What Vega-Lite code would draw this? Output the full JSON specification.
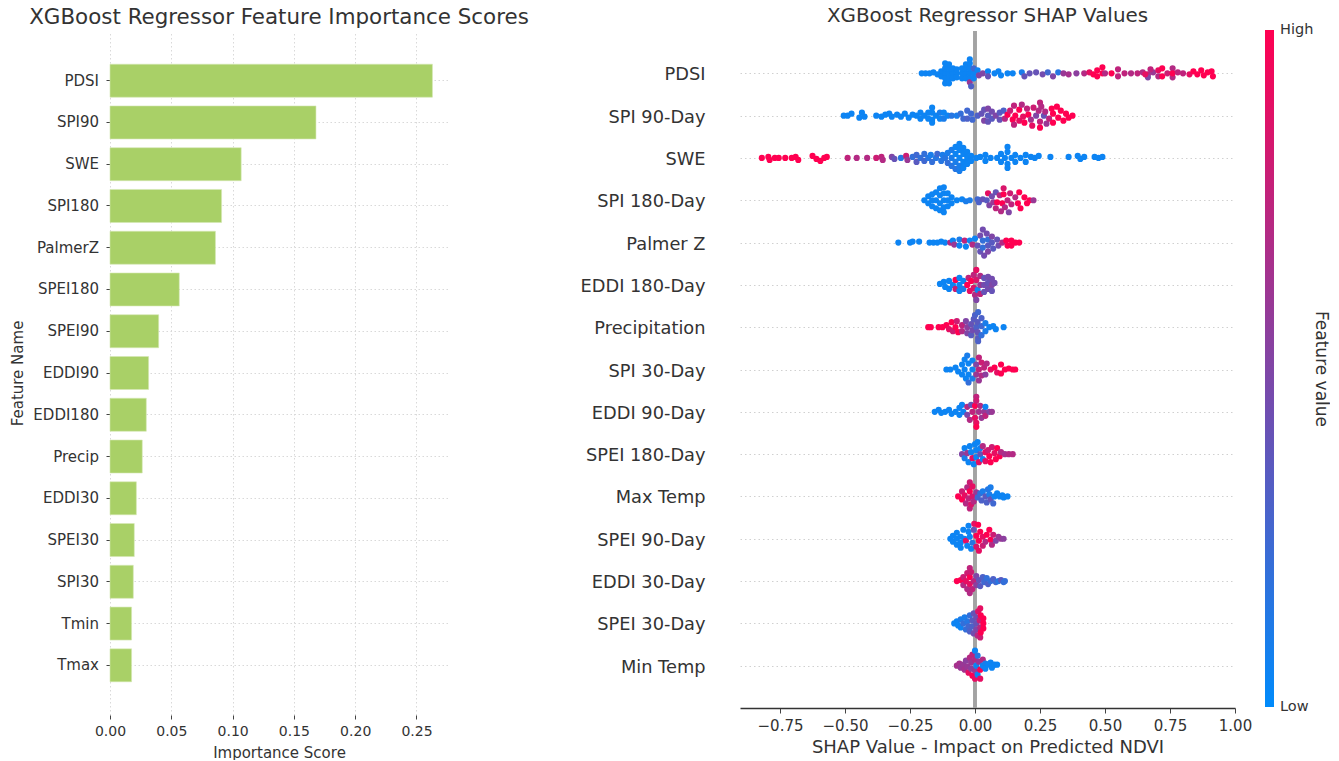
{"$schema":"https://vega.github.io/schema/vega-lite/v6.json","padding":{"left":10,"top":6,"right":0,"bottom":0},"background":"white","spacing":51,"config":{"view":{"stroke":null},"font":"DejaVu Sans","title":{"font":"DejaVu Sans","fontWeight":"normal","color":"#333333"},"axis":{"labelFont":"DejaVu Sans","titleFont":"DejaVu Sans","titleFontWeight":"normal","labelColor":"#333333","titleColor":"#333333","tickColor":"#444444"},"legend":{"labelFont":"DejaVu Sans","titleFont":"DejaVu Sans"}},"hconcat":[{"width":338,"height":684,"title":{"text":"XGBoost Regressor Feature Importance Scores","fontSize":21.4,"offset":2.5},"data":{"values":[{"n":"PDSI","i":0.263},{"n":"SPI90","i":0.168},{"n":"SWE","i":0.107},{"n":"SPI180","i":0.091},{"n":"PalmerZ","i":0.086},{"n":"SPEI180","i":0.0565},{"n":"SPEI90","i":0.0397},{"n":"EDDI90","i":0.0315},{"n":"EDDI180","i":0.0296},{"n":"Precip","i":0.0263},{"n":"EDDI30","i":0.0215},{"n":"SPEI30","i":0.0198},{"n":"SPI30","i":0.019},{"n":"Tmin","i":0.0176},{"n":"Tmax","i":0.0176}]},"mark":{"type":"bar","color":"#a9d067","stroke":"#d5e8b3","strokeWidth":0.6,"height":33},"encoding":{"x":{"field":"i","type":"quantitative","title":"Importance Score","scale":{"domain":[0,0.2757],"nice":false},"axis":{"values":[0,0.05,0.1,0.15,0.2,0.25],"format":".2f","labelFlush":false,"domain":false,"grid":true,"gridDash":[1.5,2.5],"gridColor":"#d9d9d9","labelFontSize":14,"titleFontSize":15,"tickSize":4,"titlePadding":7,"labelPadding":5}},"y":{"field":"n","type":"nominal","sort":null,"title":"Feature Name","scale":{"paddingInner":0.21,"paddingOuter":0.795},"axis":{"domain":false,"grid":true,"gridDash":[1.5,2.5],"gridColor":"#d9d9d9","labelFontSize":15,"titleFontSize":15,"tickSize":4,"labelPadding":7.5,"titlePadding":7.5}}}},{"width":495,"height":677,"title":{"text":"XGBoost Regressor SHAP Values","fontSize":19.9,"offset":3.5},"data":{"values":[
{"f":"PDSI","s":-0.205,"o":0,"v":0.05},{"f":"PDSI","s":-0.19,"o":0,"v":0.05},{"f":"PDSI","s":-0.175,"o":0,"v":0.05},{"f":"PDSI","s":-0.16,"o":-1,"v":0.05},{"f":"PDSI","s":-0.145,"o":1,"v":0.05},{"f":"PDSI","s":-0.13,"o":-2,"v":0.05},{"f":"PDSI","s":-0.13,"o":3,"v":0.05},{"f":"PDSI","s":-0.115,"o":0,"v":0.05},{"f":"PDSI","s":-0.115,"o":-5,"v":0.05},{"f":"PDSI","s":-0.115,"o":5,"v":0.05},{"f":"PDSI","s":-0.115,"o":-10,"v":0.05},{"f":"PDSI","s":-0.115,"o":10,"v":0.05},{"f":"PDSI","s":-0.1,"o":0,"v":0.05},{"f":"PDSI","s":-0.1,"o":-5,"v":0.05},{"f":"PDSI","s":-0.1,"o":5,"v":0.05},{"f":"PDSI","s":-0.1,"o":-9,"v":0.05},{"f":"PDSI","s":-0.1,"o":10,"v":0.05},{"f":"PDSI","s":-0.085,"o":0,"v":0.05},{"f":"PDSI","s":-0.085,"o":-5,"v":0.05},{"f":"PDSI","s":-0.085,"o":5,"v":0.05},{"f":"PDSI","s":-0.07,"o":0,"v":0.05},{"f":"PDSI","s":-0.07,"o":-4,"v":0.05},{"f":"PDSI","s":-0.07,"o":4,"v":0.05},{"f":"PDSI","s":-0.05,"o":0,"v":0.05},{"f":"PDSI","s":-0.05,"o":-5,"v":0.05},{"f":"PDSI","s":-0.05,"o":5,"v":0.05},{"f":"PDSI","s":-0.035,"o":0,"v":0.05},{"f":"PDSI","s":-0.035,"o":-5,"v":0.05},{"f":"PDSI","s":-0.035,"o":5,"v":0.05},{"f":"PDSI","s":-0.035,"o":-9,"v":0.05},{"f":"PDSI","s":-0.02,"o":0,"v":0.05},{"f":"PDSI","s":-0.02,"o":-5,"v":0.05},{"f":"PDSI","s":-0.02,"o":5,"v":0.05},{"f":"PDSI","s":-0.02,"o":-10,"v":0.05},{"f":"PDSI","s":-0.02,"o":-14,"v":0.05},{"f":"PDSI","s":-0.02,"o":9,"v":0.6},{"f":"PDSI","s":-0.015,"o":13,"v":0.3},{"f":"PDSI","s":-0.005,"o":0,"v":0.05},{"f":"PDSI","s":-0.005,"o":-5,"v":0.25},{"f":"PDSI","s":-0.005,"o":5,"v":0.05},{"f":"PDSI","s":0.01,"o":-3,"v":0.05},{"f":"PDSI","s":0.015,"o":2,"v":0.5},{"f":"PDSI","s":0.03,"o":0,"v":0.5},{"f":"PDSI","s":0.05,"o":-2,"v":0.05},{"f":"PDSI","s":0.05,"o":3,"v":0.4},{"f":"PDSI","s":0.075,"o":0,"v":0.05},{"f":"PDSI","s":0.09,"o":-2,"v":0.05},{"f":"PDSI","s":0.1,"o":2,"v":0.05},{"f":"PDSI","s":0.125,"o":0,"v":0.05},{"f":"PDSI","s":0.145,"o":0,"v":0.05},{"f":"PDSI","s":0.18,"o":-1,"v":0.1},{"f":"PDSI","s":0.19,"o":3,"v":0.4},{"f":"PDSI","s":0.21,"o":0,"v":0.4},{"f":"PDSI","s":0.235,"o":-1,"v":0.4},{"f":"PDSI","s":0.26,"o":1,"v":0.45},{"f":"PDSI","s":0.28,"o":-1,"v":0.25},{"f":"PDSI","s":0.3,"o":3,"v":0.5},{"f":"PDSI","s":0.32,"o":-1,"v":0.15},{"f":"PDSI","s":0.34,"o":0,"v":0.6},{"f":"PDSI","s":0.36,"o":1,"v":0.65},{"f":"PDSI","s":0.39,"o":0,"v":0.55},{"f":"PDSI","s":0.42,"o":0,"v":0.7},{"f":"PDSI","s":0.44,"o":-1,"v":0.9},{"f":"PDSI","s":0.455,"o":1,"v":1},{"f":"PDSI","s":0.47,"o":-3,"v":1},{"f":"PDSI","s":0.47,"o":3,"v":1},{"f":"PDSI","s":0.49,"o":0,"v":1},{"f":"PDSI","s":0.49,"o":-6,"v":1},{"f":"PDSI","s":0.5,"o":0,"v":0.7},{"f":"PDSI","s":0.525,"o":0,"v":1},{"f":"PDSI","s":0.55,"o":-4,"v":0.75},{"f":"PDSI","s":0.55,"o":3,"v":0.75},{"f":"PDSI","s":0.575,"o":0,"v":0.75},{"f":"PDSI","s":0.6,"o":0,"v":0.7},{"f":"PDSI","s":0.625,"o":0,"v":0.75},{"f":"PDSI","s":0.645,"o":-1,"v":0.7},{"f":"PDSI","s":0.665,"o":1,"v":0.7},{"f":"PDSI","s":0.685,"o":-1,"v":0.6},{"f":"PDSI","s":0.705,"o":-3,"v":0.9},{"f":"PDSI","s":0.705,"o":3,"v":0.7},{"f":"PDSI","s":0.665,"o":4,"v":0.5},{"f":"PDSI","s":0.675,"o":-4,"v":0.75},{"f":"PDSI","s":0.655,"o":1,"v":0.9},{"f":"PDSI","s":0.72,"o":-5,"v":1},{"f":"PDSI","s":0.72,"o":3,"v":1},{"f":"PDSI","s":0.74,"o":0,"v":0.8},{"f":"PDSI","s":0.76,"o":-5,"v":0.7},{"f":"PDSI","s":0.76,"o":4,"v":0.7},{"f":"PDSI","s":0.76,"o":0,"v":1},{"f":"PDSI","s":0.78,"o":-1,"v":0.75},{"f":"PDSI","s":0.8,"o":0,"v":0.75},{"f":"PDSI","s":0.825,"o":1,"v":0.9},{"f":"PDSI","s":0.84,"o":-2,"v":1},{"f":"PDSI","s":0.855,"o":1,"v":1},{"f":"PDSI","s":0.87,"o":-3,"v":1},{"f":"PDSI","s":0.88,"o":2,"v":1},{"f":"PDSI","s":0.895,"o":-1,"v":1},{"f":"PDSI","s":0.91,"o":-2,"v":1},{"f":"PDSI","s":0.915,"o":3,"v":1},
{"f":"SPI 90-Day","s":-0.505,"o":0,"v":0.05},{"f":"SPI 90-Day","s":-0.49,"o":0,"v":0.05},{"f":"SPI 90-Day","s":-0.475,"o":-2,"v":0.05},{"f":"SPI 90-Day","s":-0.445,"o":2,"v":0.05},{"f":"SPI 90-Day","s":-0.435,"o":-3,"v":0.05},{"f":"SPI 90-Day","s":-0.425,"o":1,"v":0.05},{"f":"SPI 90-Day","s":-0.38,"o":0,"v":0.05},{"f":"SPI 90-Day","s":-0.36,"o":1,"v":0.05},{"f":"SPI 90-Day","s":-0.345,"o":-1,"v":0.05},{"f":"SPI 90-Day","s":-0.33,"o":-2,"v":0.05},{"f":"SPI 90-Day","s":-0.32,"o":1,"v":0.05},{"f":"SPI 90-Day","s":-0.3,"o":-1,"v":0.05},{"f":"SPI 90-Day","s":-0.285,"o":1,"v":0.05},{"f":"SPI 90-Day","s":-0.27,"o":-2,"v":0.05},{"f":"SPI 90-Day","s":-0.255,"o":2,"v":0.05},{"f":"SPI 90-Day","s":-0.24,"o":-1,"v":0.05},{"f":"SPI 90-Day","s":-0.225,"o":0,"v":0.05},{"f":"SPI 90-Day","s":-0.21,"o":-3,"v":0.05},{"f":"SPI 90-Day","s":-0.21,"o":3,"v":0.05},{"f":"SPI 90-Day","s":-0.195,"o":0,"v":0.05},{"f":"SPI 90-Day","s":-0.18,"o":-3,"v":0.05},{"f":"SPI 90-Day","s":-0.18,"o":3,"v":0.05},{"f":"SPI 90-Day","s":-0.165,"o":-3,"v":0.05},{"f":"SPI 90-Day","s":-0.165,"o":4,"v":0.05},{"f":"SPI 90-Day","s":-0.165,"o":-8,"v":0.05},{"f":"SPI 90-Day","s":-0.165,"o":7,"v":0.05},{"f":"SPI 90-Day","s":-0.15,"o":0,"v":0.05},{"f":"SPI 90-Day","s":-0.135,"o":-3,"v":0.1},{"f":"SPI 90-Day","s":-0.135,"o":3,"v":0.05},{"f":"SPI 90-Day","s":-0.12,"o":-3,"v":0.05},{"f":"SPI 90-Day","s":-0.12,"o":3,"v":0.1},{"f":"SPI 90-Day","s":-0.105,"o":0,"v":0.05},{"f":"SPI 90-Day","s":-0.09,"o":0,"v":0.15},{"f":"SPI 90-Day","s":-0.07,"o":0,"v":0.1},{"f":"SPI 90-Day","s":-0.055,"o":-2,"v":0.2},{"f":"SPI 90-Day","s":-0.045,"o":3,"v":0.25},{"f":"SPI 90-Day","s":-0.03,"o":-5,"v":0.25},{"f":"SPI 90-Day","s":-0.03,"o":3,"v":0.3},{"f":"SPI 90-Day","s":-0.015,"o":-2,"v":0.25},{"f":"SPI 90-Day","s":-0.01,"o":4,"v":0.25},{"f":"SPI 90-Day","s":0.01,"o":0,"v":0.3},{"f":"SPI 90-Day","s":0.025,"o":-2,"v":0.4},{"f":"SPI 90-Day","s":0.035,"o":-6,"v":0.4},{"f":"SPI 90-Day","s":0.035,"o":5,"v":0.5},{"f":"SPI 90-Day","s":0.05,"o":0,"v":0.35},{"f":"SPI 90-Day","s":0.05,"o":-7,"v":0.5},{"f":"SPI 90-Day","s":0.05,"o":6,"v":0.4},{"f":"SPI 90-Day","s":0.065,"o":-4,"v":0.45},{"f":"SPI 90-Day","s":0.065,"o":3,"v":0.35},{"f":"SPI 90-Day","s":0.08,"o":0,"v":0.5},{"f":"SPI 90-Day","s":0.095,"o":-3,"v":0.35},{"f":"SPI 90-Day","s":0.095,"o":4,"v":0.4},{"f":"SPI 90-Day","s":0.11,"o":-5,"v":0.3},{"f":"SPI 90-Day","s":0.115,"o":3,"v":0.7},{"f":"SPI 90-Day","s":0.125,"o":-1,"v":1},{"f":"SPI 90-Day","s":0.135,"o":-5,"v":0.8},{"f":"SPI 90-Day","s":0.145,"o":4,"v":1},{"f":"SPI 90-Day","s":0.15,"o":-10,"v":0.75},{"f":"SPI 90-Day","s":0.15,"o":9,"v":0.75},{"f":"SPI 90-Day","s":0.155,"o":0,"v":1},{"f":"SPI 90-Day","s":0.17,"o":-6,"v":1},{"f":"SPI 90-Day","s":0.17,"o":5,"v":0.9},{"f":"SPI 90-Day","s":0.18,"o":-11,"v":0.7},{"f":"SPI 90-Day","s":0.185,"o":1,"v":0.9},{"f":"SPI 90-Day","s":0.19,"o":7,"v":1},{"f":"SPI 90-Day","s":0.2,"o":-7,"v":0.75},{"f":"SPI 90-Day","s":0.205,"o":-1,"v":1},{"f":"SPI 90-Day","s":0.215,"o":4,"v":0.65},{"f":"SPI 90-Day","s":0.22,"o":10,"v":0.9},{"f":"SPI 90-Day","s":0.225,"o":-8,"v":0.8},{"f":"SPI 90-Day","s":0.235,"o":0,"v":0.5},{"f":"SPI 90-Day","s":0.245,"o":-5,"v":0.7},{"f":"SPI 90-Day","s":0.25,"o":-13,"v":0.75},{"f":"SPI 90-Day","s":0.25,"o":6,"v":0.75},{"f":"SPI 90-Day","s":0.25,"o":12,"v":1},{"f":"SPI 90-Day","s":0.255,"o":-9,"v":0.7},{"f":"SPI 90-Day","s":0.265,"o":0,"v":0.4},{"f":"SPI 90-Day","s":0.27,"o":-4,"v":0.7},{"f":"SPI 90-Day","s":0.275,"o":8,"v":0.6},{"f":"SPI 90-Day","s":0.285,"o":3,"v":0.75},{"f":"SPI 90-Day","s":0.295,"o":-7,"v":1},{"f":"SPI 90-Day","s":0.3,"o":-2,"v":1},{"f":"SPI 90-Day","s":0.3,"o":7,"v":1},{"f":"SPI 90-Day","s":0.315,"o":-9,"v":1},{"f":"SPI 90-Day","s":0.32,"o":2,"v":1},{"f":"SPI 90-Day","s":0.33,"o":-5,"v":1},{"f":"SPI 90-Day","s":0.34,"o":5,"v":1},{"f":"SPI 90-Day","s":0.35,"o":-2,"v":1},{"f":"SPI 90-Day","s":0.36,"o":2,"v":1},{"f":"SPI 90-Day","s":0.375,"o":0,"v":1},
{"f":"SWE","s":-0.82,"o":0,"v":1},{"f":"SWE","s":-0.795,"o":-1,"v":1},{"f":"SWE","s":-0.79,"o":2,"v":1},{"f":"SWE","s":-0.77,"o":0,"v":1},{"f":"SWE","s":-0.755,"o":0,"v":1},{"f":"SWE","s":-0.73,"o":0,"v":1},{"f":"SWE","s":-0.705,"o":0,"v":1},{"f":"SWE","s":-0.69,"o":-1,"v":1},{"f":"SWE","s":-0.68,"o":2,"v":1},{"f":"SWE","s":-0.625,"o":-2,"v":1},{"f":"SWE","s":-0.61,"o":1,"v":1},{"f":"SWE","s":-0.595,"o":3,"v":1},{"f":"SWE","s":-0.58,"o":0,"v":1},{"f":"SWE","s":-0.57,"o":-1,"v":1},{"f":"SWE","s":-0.49,"o":0,"v":0.75},{"f":"SWE","s":-0.455,"o":0,"v":0.7},{"f":"SWE","s":-0.415,"o":0,"v":0.7},{"f":"SWE","s":-0.38,"o":0,"v":0.8},{"f":"SWE","s":-0.36,"o":-1,"v":0.75},{"f":"SWE","s":-0.355,"o":2,"v":0.7},{"f":"SWE","s":-0.32,"o":-1,"v":0.5},{"f":"SWE","s":-0.31,"o":1,"v":0.4},{"f":"SWE","s":-0.285,"o":0,"v":0.15},{"f":"SWE","s":-0.265,"o":-2,"v":0.8},{"f":"SWE","s":-0.26,"o":2,"v":0.6},{"f":"SWE","s":-0.24,"o":-1,"v":0.2},{"f":"SWE","s":-0.225,"o":-3,"v":0.25},{"f":"SWE","s":-0.225,"o":4,"v":0.35},{"f":"SWE","s":-0.21,"o":0,"v":0.2},{"f":"SWE","s":-0.195,"o":-4,"v":0.2},{"f":"SWE","s":-0.195,"o":3,"v":0.25},{"f":"SWE","s":-0.18,"o":0,"v":0.15},{"f":"SWE","s":-0.17,"o":-3,"v":0.1},{"f":"SWE","s":-0.165,"o":4,"v":0.2},{"f":"SWE","s":-0.15,"o":0,"v":0.15},{"f":"SWE","s":-0.145,"o":-4,"v":0.25},{"f":"SWE","s":-0.13,"o":3,"v":0.15},{"f":"SWE","s":-0.125,"o":-3,"v":0.1},{"f":"SWE","s":-0.115,"o":0,"v":0.15},{"f":"SWE","s":-0.105,"o":-5,"v":0.1},{"f":"SWE","s":-0.105,"o":5,"v":0.2},{"f":"SWE","s":-0.09,"o":0,"v":0.1},{"f":"SWE","s":-0.09,"o":-8,"v":0.1},{"f":"SWE","s":-0.09,"o":8,"v":0.15},{"f":"SWE","s":-0.075,"o":-4,"v":0.05},{"f":"SWE","s":-0.075,"o":4,"v":0.1},{"f":"SWE","s":-0.075,"o":-11,"v":0.05},{"f":"SWE","s":-0.075,"o":11,"v":0.15},{"f":"SWE","s":-0.06,"o":0,"v":0.05},{"f":"SWE","s":-0.06,"o":-8,"v":0.05},{"f":"SWE","s":-0.06,"o":8,"v":0.1},{"f":"SWE","s":-0.06,"o":-14,"v":0.05},{"f":"SWE","s":-0.06,"o":13,"v":0.1},{"f":"SWE","s":-0.045,"o":-4,"v":0.05},{"f":"SWE","s":-0.045,"o":4,"v":0.05},{"f":"SWE","s":-0.045,"o":-10,"v":0.05},{"f":"SWE","s":-0.045,"o":10,"v":0.05},{"f":"SWE","s":-0.03,"o":0,"v":0.05},{"f":"SWE","s":-0.03,"o":-6,"v":0.05},{"f":"SWE","s":-0.03,"o":6,"v":0.05},{"f":"SWE","s":-0.015,"o":-2,"v":0.05},{"f":"SWE","s":-0.015,"o":3,"v":0.05},{"f":"SWE","s":0.005,"o":0,"v":0.05},{"f":"SWE","s":0.02,"o":-1,"v":0.05},{"f":"SWE","s":0.04,"o":-3,"v":0.05},{"f":"SWE","s":0.04,"o":3,"v":0.05},{"f":"SWE","s":0.06,"o":0,"v":0.05},{"f":"SWE","s":0.085,"o":0,"v":0.05},{"f":"SWE","s":0.1,"o":-4,"v":0.05},{"f":"SWE","s":0.1,"o":4,"v":0.05},{"f":"SWE","s":0.115,"o":0,"v":0.05},{"f":"SWE","s":0.125,"o":-6,"v":0.05},{"f":"SWE","s":0.125,"o":6,"v":0.05},{"f":"SWE","s":0.125,"o":-11,"v":0.05},{"f":"SWE","s":0.125,"o":10,"v":0.05},{"f":"SWE","s":0.14,"o":0,"v":0.05},{"f":"SWE","s":0.155,"o":-3,"v":0.05},{"f":"SWE","s":0.155,"o":4,"v":0.05},{"f":"SWE","s":0.175,"o":0,"v":0.05},{"f":"SWE","s":0.195,"o":-3,"v":0.05},{"f":"SWE","s":0.195,"o":4,"v":0.05},{"f":"SWE","s":0.215,"o":-1,"v":0.05},{"f":"SWE","s":0.23,"o":0,"v":0.05},{"f":"SWE","s":0.245,"o":-2,"v":0.05},{"f":"SWE","s":0.29,"o":-1,"v":0.05},{"f":"SWE","s":0.36,"o":-1,"v":0.05},{"f":"SWE","s":0.395,"o":-2,"v":0.05},{"f":"SWE","s":0.405,"o":1,"v":0.05},{"f":"SWE","s":0.42,"o":-1,"v":0.05},{"f":"SWE","s":0.46,"o":-1,"v":0.05},{"f":"SWE","s":0.475,"o":0,"v":0.05},{"f":"SWE","s":0.49,"o":-1,"v":0.05},
{"f":"SPI 180-Day","s":-0.195,"o":0,"v":0.05},{"f":"SPI 180-Day","s":-0.18,"o":-4,"v":0.05},{"f":"SPI 180-Day","s":-0.18,"o":3,"v":0.05},{"f":"SPI 180-Day","s":-0.165,"o":-6,"v":0.05},{"f":"SPI 180-Day","s":-0.165,"o":0,"v":0.05},{"f":"SPI 180-Day","s":-0.165,"o":6,"v":0.05},{"f":"SPI 180-Day","s":-0.15,"o":-8,"v":0.05},{"f":"SPI 180-Day","s":-0.15,"o":0,"v":0.05},{"f":"SPI 180-Day","s":-0.15,"o":8,"v":0.05},{"f":"SPI 180-Day","s":-0.135,"o":-12,"v":0.05},{"f":"SPI 180-Day","s":-0.135,"o":-5,"v":0.05},{"f":"SPI 180-Day","s":-0.135,"o":3,"v":0.05},{"f":"SPI 180-Day","s":-0.135,"o":10,"v":0.05},{"f":"SPI 180-Day","s":-0.12,"o":-13,"v":0.05},{"f":"SPI 180-Day","s":-0.12,"o":-7,"v":0.05},{"f":"SPI 180-Day","s":-0.12,"o":0,"v":0.05},{"f":"SPI 180-Day","s":-0.12,"o":7,"v":0.05},{"f":"SPI 180-Day","s":-0.12,"o":12,"v":0.05},{"f":"SPI 180-Day","s":-0.105,"o":-7,"v":0.05},{"f":"SPI 180-Day","s":-0.105,"o":0,"v":0.05},{"f":"SPI 180-Day","s":-0.105,"o":6,"v":0.05},{"f":"SPI 180-Day","s":-0.09,"o":-3,"v":0.05},{"f":"SPI 180-Day","s":-0.09,"o":3,"v":0.05},{"f":"SPI 180-Day","s":-0.07,"o":0,"v":0.05},{"f":"SPI 180-Day","s":-0.05,"o":-1,"v":0.05},{"f":"SPI 180-Day","s":-0.035,"o":1,"v":0.1},{"f":"SPI 180-Day","s":-0.02,"o":0,"v":0.1},{"f":"SPI 180-Day","s":0.01,"o":-1,"v":0.25},{"f":"SPI 180-Day","s":0.015,"o":2,"v":0.3},{"f":"SPI 180-Day","s":0.03,"o":-1,"v":0.4},{"f":"SPI 180-Day","s":0.045,"o":0,"v":0.35},{"f":"SPI 180-Day","s":0.05,"o":-7,"v":0.9},{"f":"SPI 180-Day","s":0.055,"o":5,"v":0.5},{"f":"SPI 180-Day","s":0.065,"o":-4,"v":0.45},{"f":"SPI 180-Day","s":0.07,"o":2,"v":0.6},{"f":"SPI 180-Day","s":0.08,"o":-8,"v":0.4},{"f":"SPI 180-Day","s":0.08,"o":8,"v":0.75},{"f":"SPI 180-Day","s":0.085,"o":2,"v":1},{"f":"SPI 180-Day","s":0.095,"o":-5,"v":0.7},{"f":"SPI 180-Day","s":0.1,"o":11,"v":0.7},{"f":"SPI 180-Day","s":0.105,"o":3,"v":1},{"f":"SPI 180-Day","s":0.11,"o":-12,"v":0.85},{"f":"SPI 180-Day","s":0.11,"o":-6,"v":1},{"f":"SPI 180-Day","s":0.115,"o":7,"v":0.7},{"f":"SPI 180-Day","s":0.125,"o":0,"v":0.75},{"f":"SPI 180-Day","s":0.13,"o":12,"v":0.5},{"f":"SPI 180-Day","s":0.135,"o":-7,"v":0.8},{"f":"SPI 180-Day","s":0.14,"o":4,"v":0.75},{"f":"SPI 180-Day","s":0.155,"o":-3,"v":0.7},{"f":"SPI 180-Day","s":0.165,"o":3,"v":1},{"f":"SPI 180-Day","s":0.17,"o":-8,"v":1},{"f":"SPI 180-Day","s":0.175,"o":8,"v":1},{"f":"SPI 180-Day","s":0.19,"o":-3,"v":1},{"f":"SPI 180-Day","s":0.2,"o":3,"v":1},{"f":"SPI 180-Day","s":0.21,"o":0,"v":1},{"f":"SPI 180-Day","s":0.225,"o":0,"v":0.6},
{"f":"Palmer Z","s":-0.295,"o":0,"v":0.05},{"f":"Palmer Z","s":-0.25,"o":0,"v":0.05},{"f":"Palmer Z","s":-0.24,"o":-1,"v":0.05},{"f":"Palmer Z","s":-0.215,"o":-1,"v":0.05},{"f":"Palmer Z","s":-0.175,"o":0,"v":0.05},{"f":"Palmer Z","s":-0.16,"o":0,"v":0.05},{"f":"Palmer Z","s":-0.145,"o":0,"v":0.05},{"f":"Palmer Z","s":-0.13,"o":-1,"v":0.05},{"f":"Palmer Z","s":-0.115,"o":0,"v":0.05},{"f":"Palmer Z","s":-0.095,"o":0,"v":0.7},{"f":"Palmer Z","s":-0.085,"o":-2,"v":0.05},{"f":"Palmer Z","s":-0.08,"o":2,"v":0.6},{"f":"Palmer Z","s":-0.06,"o":-3,"v":0.1},{"f":"Palmer Z","s":-0.06,"o":3,"v":0.05},{"f":"Palmer Z","s":-0.04,"o":-2,"v":0.75},{"f":"Palmer Z","s":-0.035,"o":4,"v":0.05},{"f":"Palmer Z","s":-0.02,"o":-2,"v":0.05},{"f":"Palmer Z","s":-0.01,"o":2,"v":0.7},{"f":"Palmer Z","s":0.0,"o":-4,"v":0.05},{"f":"Palmer Z","s":0.01,"o":3,"v":0.4},{"f":"Palmer Z","s":0.02,"o":-7,"v":0.45},{"f":"Palmer Z","s":0.02,"o":9,"v":0.4},{"f":"Palmer Z","s":0.03,"o":-13,"v":0.45},{"f":"Palmer Z","s":0.03,"o":-2,"v":0.2},{"f":"Palmer Z","s":0.03,"o":5,"v":0.2},{"f":"Palmer Z","s":0.035,"o":13,"v":0.45},{"f":"Palmer Z","s":0.045,"o":-9,"v":0.45},{"f":"Palmer Z","s":0.05,"o":-3,"v":0.2},{"f":"Palmer Z","s":0.05,"o":3,"v":0.35},{"f":"Palmer Z","s":0.05,"o":9,"v":0.5},{"f":"Palmer Z","s":0.065,"o":-6,"v":0.5},{"f":"Palmer Z","s":0.065,"o":0,"v":0.35},{"f":"Palmer Z","s":0.07,"o":6,"v":0.35},{"f":"Palmer Z","s":0.085,"o":-3,"v":0.4},{"f":"Palmer Z","s":0.09,"o":3,"v":0.45},{"f":"Palmer Z","s":0.105,"o":0,"v":0.7},{"f":"Palmer Z","s":0.12,"o":-2,"v":1},{"f":"Palmer Z","s":0.125,"o":3,"v":1},{"f":"Palmer Z","s":0.14,"o":-2,"v":1},{"f":"Palmer Z","s":0.14,"o":3,"v":1},{"f":"Palmer Z","s":0.155,"o":0,"v":1},{"f":"Palmer Z","s":0.17,"o":0,"v":1},
{"f":"EDDI 180-Day","s":-0.135,"o":-1,"v":0.05},{"f":"EDDI 180-Day","s":-0.12,"o":-3,"v":0.05},{"f":"EDDI 180-Day","s":-0.115,"o":2,"v":0.05},{"f":"EDDI 180-Day","s":-0.1,"o":-4,"v":0.05},{"f":"EDDI 180-Day","s":-0.1,"o":4,"v":0.05},{"f":"EDDI 180-Day","s":-0.085,"o":0,"v":0.05},{"f":"EDDI 180-Day","s":-0.075,"o":-5,"v":1},{"f":"EDDI 180-Day","s":-0.075,"o":4,"v":0.8},{"f":"EDDI 180-Day","s":-0.06,"o":-7,"v":0.05},{"f":"EDDI 180-Day","s":-0.06,"o":0,"v":0.05},{"f":"EDDI 180-Day","s":-0.06,"o":6,"v":0.05},{"f":"EDDI 180-Day","s":-0.045,"o":-4,"v":0.05},{"f":"EDDI 180-Day","s":-0.045,"o":4,"v":0.1},{"f":"EDDI 180-Day","s":-0.03,"o":0,"v":1},{"f":"EDDI 180-Day","s":-0.025,"o":-7,"v":0.75},{"f":"EDDI 180-Day","s":-0.02,"o":6,"v":0.9},{"f":"EDDI 180-Day","s":-0.015,"o":-4,"v":1},{"f":"EDDI 180-Day","s":-0.005,"o":-10,"v":0.75},{"f":"EDDI 180-Day","s":-0.005,"o":3,"v":0.85},{"f":"EDDI 180-Day","s":0.0,"o":10,"v":0.7},{"f":"EDDI 180-Day","s":0.005,"o":-15,"v":0.9},{"f":"EDDI 180-Day","s":0.005,"o":-5,"v":0.85},{"f":"EDDI 180-Day","s":0.01,"o":5,"v":0.05},{"f":"EDDI 180-Day","s":0.005,"o":15,"v":0.5},{"f":"EDDI 180-Day","s":0.02,"o":-9,"v":0.7},{"f":"EDDI 180-Day","s":0.02,"o":0,"v":0.6},{"f":"EDDI 180-Day","s":0.02,"o":9,"v":0.75},{"f":"EDDI 180-Day","s":0.035,"o":-7,"v":0.4},{"f":"EDDI 180-Day","s":0.035,"o":0,"v":0.45},{"f":"EDDI 180-Day","s":0.035,"o":7,"v":0.4},{"f":"EDDI 180-Day","s":0.05,"o":-8,"v":0.45},{"f":"EDDI 180-Day","s":0.05,"o":-2,"v":0.4},{"f":"EDDI 180-Day","s":0.05,"o":4,"v":0.45},{"f":"EDDI 180-Day","s":0.065,"o":-6,"v":0.45},{"f":"EDDI 180-Day","s":0.065,"o":0,"v":0.5},{"f":"EDDI 180-Day","s":0.065,"o":6,"v":0.4},{"f":"EDDI 180-Day","s":0.075,"o":-2,"v":0.45},
{"f":"Precipitation","s":-0.18,"o":0,"v":1},{"f":"Precipitation","s":-0.17,"o":0,"v":1},{"f":"Precipitation","s":-0.14,"o":0,"v":1},{"f":"Precipitation","s":-0.125,"o":0,"v":1},{"f":"Precipitation","s":-0.11,"o":-2,"v":1},{"f":"Precipitation","s":-0.1,"o":2,"v":0.9},{"f":"Precipitation","s":-0.09,"o":-5,"v":1},{"f":"Precipitation","s":-0.085,"o":4,"v":0.8},{"f":"Precipitation","s":-0.075,"o":0,"v":1},{"f":"Precipitation","s":-0.07,"o":-6,"v":0.8},{"f":"Precipitation","s":-0.065,"o":5,"v":1},{"f":"Precipitation","s":-0.05,"o":-2,"v":0.75},{"f":"Precipitation","s":-0.05,"o":4,"v":0.7},{"f":"Precipitation","s":-0.035,"o":-6,"v":0.5},{"f":"Precipitation","s":-0.03,"o":0,"v":0.55},{"f":"Precipitation","s":-0.03,"o":6,"v":0.5},{"f":"Precipitation","s":-0.015,"o":-3,"v":0.4},{"f":"Precipitation","s":-0.015,"o":8,"v":0.35},{"f":"Precipitation","s":-0.01,"o":3,"v":0.45},{"f":"Precipitation","s":-0.005,"o":-8,"v":0.35},{"f":"Precipitation","s":0.0,"o":-12,"v":0.3},{"f":"Precipitation","s":0.005,"o":0,"v":0.3},{"f":"Precipitation","s":0.01,"o":-5,"v":0.35},{"f":"Precipitation","s":0.01,"o":5,"v":0.4},{"f":"Precipitation","s":0.012,"o":-15,"v":0.25},{"f":"Precipitation","s":0.012,"o":11,"v":0.35},{"f":"Precipitation","s":0.012,"o":14,"v":0.3},{"f":"Precipitation","s":0.025,"o":-9,"v":0.3},{"f":"Precipitation","s":0.025,"o":-1,"v":0.25},{"f":"Precipitation","s":0.025,"o":8,"v":0.2},{"f":"Precipitation","s":0.04,"o":-4,"v":0.1},{"f":"Precipitation","s":0.04,"o":4,"v":0.1},{"f":"Precipitation","s":0.055,"o":0,"v":0.05},{"f":"Precipitation","s":0.07,"o":-1,"v":0.05},{"f":"Precipitation","s":0.08,"o":2,"v":0.05},{"f":"Precipitation","s":0.11,"o":0,"v":0.05},
{"f":"SPI 30-Day","s":-0.11,"o":0,"v":0.05},{"f":"SPI 30-Day","s":-0.095,"o":0,"v":0.05},{"f":"SPI 30-Day","s":-0.075,"o":-2,"v":0.05},{"f":"SPI 30-Day","s":-0.065,"o":2,"v":0.05},{"f":"SPI 30-Day","s":-0.05,"o":-5,"v":0.05},{"f":"SPI 30-Day","s":-0.05,"o":5,"v":0.05},{"f":"SPI 30-Day","s":-0.04,"o":-10,"v":0.05},{"f":"SPI 30-Day","s":-0.04,"o":0,"v":0.05},{"f":"SPI 30-Day","s":-0.035,"o":9,"v":0.05},{"f":"SPI 30-Day","s":-0.03,"o":-14,"v":0.1},{"f":"SPI 30-Day","s":-0.025,"o":-6,"v":0.05},{"f":"SPI 30-Day","s":-0.025,"o":5,"v":0.05},{"f":"SPI 30-Day","s":-0.025,"o":13,"v":0.2},{"f":"SPI 30-Day","s":-0.01,"o":-9,"v":0.05},{"f":"SPI 30-Day","s":-0.01,"o":0,"v":0.05},{"f":"SPI 30-Day","s":-0.01,"o":9,"v":0.1},{"f":"SPI 30-Day","s":0.005,"o":-5,"v":0.5},{"f":"SPI 30-Day","s":0.005,"o":5,"v":0.6},{"f":"SPI 30-Day","s":0.015,"o":-12,"v":0.75},{"f":"SPI 30-Day","s":0.015,"o":0,"v":0.75},{"f":"SPI 30-Day","s":0.015,"o":11,"v":0.6},{"f":"SPI 30-Day","s":0.025,"o":-7,"v":0.8},{"f":"SPI 30-Day","s":0.025,"o":6,"v":0.7},{"f":"SPI 30-Day","s":0.035,"o":-2,"v":0.75},{"f":"SPI 30-Day","s":0.04,"o":5,"v":0.55},{"f":"SPI 30-Day","s":0.045,"o":-6,"v":0.7},{"f":"SPI 30-Day","s":0.06,"o":0,"v":0.9},{"f":"SPI 30-Day","s":0.075,"o":-2,"v":1},{"f":"SPI 30-Day","s":0.085,"o":3,"v":0.9},{"f":"SPI 30-Day","s":0.1,"o":-5,"v":1},{"f":"SPI 30-Day","s":0.1,"o":4,"v":1},{"f":"SPI 30-Day","s":0.115,"o":0,"v":1},{"f":"SPI 30-Day","s":0.13,"o":-1,"v":1},{"f":"SPI 30-Day","s":0.145,"o":0,"v":1},{"f":"SPI 30-Day","s":0.155,"o":0,"v":1},
{"f":"EDDI 90-Day","s":-0.155,"o":0,"v":0.05},{"f":"EDDI 90-Day","s":-0.14,"o":-2,"v":0.05},{"f":"EDDI 90-Day","s":-0.13,"o":1,"v":0.05},{"f":"EDDI 90-Day","s":-0.115,"o":0,"v":0.05},{"f":"EDDI 90-Day","s":-0.1,"o":-2,"v":0.05},{"f":"EDDI 90-Day","s":-0.09,"o":2,"v":0.05},{"f":"EDDI 90-Day","s":-0.075,"o":0,"v":0.05},{"f":"EDDI 90-Day","s":-0.06,"o":-4,"v":0.05},{"f":"EDDI 90-Day","s":-0.06,"o":3,"v":0.05},{"f":"EDDI 90-Day","s":-0.05,"o":-7,"v":0.05},{"f":"EDDI 90-Day","s":-0.045,"o":0,"v":0.05},{"f":"EDDI 90-Day","s":-0.03,"o":-5,"v":0.7},{"f":"EDDI 90-Day","s":-0.03,"o":3,"v":0.5},{"f":"EDDI 90-Day","s":-0.02,"o":8,"v":0.7},{"f":"EDDI 90-Day","s":-0.015,"o":-7,"v":0.4},{"f":"EDDI 90-Day","s":-0.01,"o":0,"v":0.75},{"f":"EDDI 90-Day","s":0.0,"o":-6,"v":1},{"f":"EDDI 90-Day","s":0.0,"o":6,"v":0.9},{"f":"EDDI 90-Day","s":0.005,"o":-15,"v":0.75},{"f":"EDDI 90-Day","s":0.005,"o":-11,"v":0.8},{"f":"EDDI 90-Day","s":0.005,"o":11,"v":0.9},{"f":"EDDI 90-Day","s":0.005,"o":15,"v":1},{"f":"EDDI 90-Day","s":0.015,"o":0,"v":0.65},{"f":"EDDI 90-Day","s":0.02,"o":-6,"v":0.7},{"f":"EDDI 90-Day","s":0.025,"o":6,"v":0.6},{"f":"EDDI 90-Day","s":0.035,"o":0,"v":0.6},{"f":"EDDI 90-Day","s":0.04,"o":-5,"v":0.05},{"f":"EDDI 90-Day","s":0.04,"o":4,"v":0.75},{"f":"EDDI 90-Day","s":0.055,"o":0,"v":0.5},{"f":"EDDI 90-Day","s":0.065,"o":0,"v":0.6},
{"f":"SPEI 180-Day","s":-0.05,"o":0,"v":0.5},{"f":"SPEI 180-Day","s":-0.04,"o":-6,"v":0.05},{"f":"SPEI 180-Day","s":-0.04,"o":4,"v":0.1},{"f":"SPEI 180-Day","s":-0.03,"o":-1,"v":0.6},{"f":"SPEI 180-Day","s":-0.025,"o":8,"v":0.05},{"f":"SPEI 180-Day","s":-0.02,"o":-8,"v":0.05},{"f":"SPEI 180-Day","s":-0.015,"o":-2,"v":0.05},{"f":"SPEI 180-Day","s":-0.01,"o":4,"v":0.9},{"f":"SPEI 180-Day","s":-0.005,"o":10,"v":0.05},{"f":"SPEI 180-Day","s":0.0,"o":-10,"v":0.05},{"f":"SPEI 180-Day","s":0.005,"o":-4,"v":0.05},{"f":"SPEI 180-Day","s":0.005,"o":3,"v":0.05},{"f":"SPEI 180-Day","s":0.01,"o":-12,"v":0.05},{"f":"SPEI 180-Day","s":0.015,"o":8,"v":0.9},{"f":"SPEI 180-Day","s":0.02,"o":-6,"v":0.05},{"f":"SPEI 180-Day","s":0.02,"o":0,"v":0.4},{"f":"SPEI 180-Day","s":0.03,"o":5,"v":0.05},{"f":"SPEI 180-Day","s":0.03,"o":-8,"v":0.7},{"f":"SPEI 180-Day","s":0.04,"o":-2,"v":0.9},{"f":"SPEI 180-Day","s":0.04,"o":7,"v":0.9},{"f":"SPEI 180-Day","s":0.05,"o":-4,"v":0.8},{"f":"SPEI 180-Day","s":0.055,"o":2,"v":1},{"f":"SPEI 180-Day","s":0.06,"o":8,"v":1},{"f":"SPEI 180-Day","s":0.065,"o":-7,"v":0.8},{"f":"SPEI 180-Day","s":0.075,"o":-1,"v":0.9},{"f":"SPEI 180-Day","s":0.08,"o":5,"v":1},{"f":"SPEI 180-Day","s":0.085,"o":-6,"v":1},{"f":"SPEI 180-Day","s":0.095,"o":2,"v":1},{"f":"SPEI 180-Day","s":0.1,"o":-2,"v":0.7},{"f":"SPEI 180-Day","s":0.115,"o":0,"v":0.65},{"f":"SPEI 180-Day","s":0.13,"o":0,"v":0.7},{"f":"SPEI 180-Day","s":0.145,"o":0,"v":0.7},
{"f":"Max Temp","s":-0.065,"o":0,"v":1},{"f":"Max Temp","s":-0.05,"o":-5,"v":0.8},{"f":"Max Temp","s":-0.05,"o":3,"v":1},{"f":"Max Temp","s":-0.04,"o":-1,"v":0.9},{"f":"Max Temp","s":-0.035,"o":7,"v":0.7},{"f":"Max Temp","s":-0.03,"o":-9,"v":0.7},{"f":"Max Temp","s":-0.025,"o":2,"v":0.75},{"f":"Max Temp","s":-0.02,"o":-5,"v":1},{"f":"Max Temp","s":-0.02,"o":12,"v":0.75},{"f":"Max Temp","s":-0.02,"o":-14,"v":0.8},{"f":"Max Temp","s":-0.015,"o":8,"v":0.85},{"f":"Max Temp","s":-0.01,"o":-10,"v":0.9},{"f":"Max Temp","s":-0.01,"o":0,"v":0.85},{"f":"Max Temp","s":-0.005,"o":5,"v":0.7},{"f":"Max Temp","s":0.005,"o":-4,"v":0.6},{"f":"Max Temp","s":0.01,"o":1,"v":0.25},{"f":"Max Temp","s":0.02,"o":-3,"v":0.2},{"f":"Max Temp","s":0.025,"o":4,"v":0.3},{"f":"Max Temp","s":0.03,"o":-5,"v":0.1},{"f":"Max Temp","s":0.04,"o":0,"v":0.35},{"f":"Max Temp","s":0.045,"o":6,"v":0.3},{"f":"Max Temp","s":0.05,"o":-7,"v":0.15},{"f":"Max Temp","s":0.055,"o":-2,"v":0.1},{"f":"Max Temp","s":0.06,"o":3,"v":0.4},{"f":"Max Temp","s":0.06,"o":-9,"v":0.1},{"f":"Max Temp","s":0.07,"o":7,"v":0.25},{"f":"Max Temp","s":0.075,"o":0,"v":0.05},{"f":"Max Temp","s":0.085,"o":-3,"v":0.05},{"f":"Max Temp","s":0.095,"o":0,"v":0.05},{"f":"Max Temp","s":0.105,"o":-1,"v":0.05},{"f":"Max Temp","s":0.11,"o":1,"v":0.05},{"f":"Max Temp","s":0.125,"o":0,"v":0.05},
{"f":"SPEI 90-Day","s":-0.095,"o":0,"v":0.05},{"f":"SPEI 90-Day","s":-0.085,"o":-3,"v":0.05},{"f":"SPEI 90-Day","s":-0.085,"o":3,"v":0.05},{"f":"SPEI 90-Day","s":-0.07,"o":0,"v":0.05},{"f":"SPEI 90-Day","s":-0.07,"o":-6,"v":0.05},{"f":"SPEI 90-Day","s":-0.07,"o":6,"v":0.05},{"f":"SPEI 90-Day","s":-0.055,"o":-2,"v":0.05},{"f":"SPEI 90-Day","s":-0.055,"o":4,"v":0.05},{"f":"SPEI 90-Day","s":-0.055,"o":9,"v":0.05},{"f":"SPEI 90-Day","s":-0.045,"o":-9,"v":0.05},{"f":"SPEI 90-Day","s":-0.04,"o":0,"v":0.05},{"f":"SPEI 90-Day","s":-0.035,"o":2,"v":0.9},{"f":"SPEI 90-Day","s":-0.03,"o":7,"v":0.05},{"f":"SPEI 90-Day","s":-0.025,"o":-7,"v":0.05},{"f":"SPEI 90-Day","s":-0.025,"o":-13,"v":0.05},{"f":"SPEI 90-Day","s":-0.02,"o":-2,"v":0.05},{"f":"SPEI 90-Day","s":-0.015,"o":10,"v":0.05},{"f":"SPEI 90-Day","s":-0.01,"o":4,"v":0.15},{"f":"SPEI 90-Day","s":-0.005,"o":-9,"v":0.4},{"f":"SPEI 90-Day","s":-0.003,"o":-15,"v":0.9},{"f":"SPEI 90-Day","s":0.005,"o":-3,"v":1},{"f":"SPEI 90-Day","s":0.005,"o":8,"v":0.85},{"f":"SPEI 90-Day","s":0.012,"o":-14,"v":1},{"f":"SPEI 90-Day","s":0.015,"o":2,"v":1},{"f":"SPEI 90-Day","s":0.015,"o":12,"v":0.9},{"f":"SPEI 90-Day","s":0.02,"o":-7,"v":1},{"f":"SPEI 90-Day","s":0.03,"o":-2,"v":0.9},{"f":"SPEI 90-Day","s":0.03,"o":7,"v":0.8},{"f":"SPEI 90-Day","s":0.04,"o":3,"v":0.7},{"f":"SPEI 90-Day","s":0.045,"o":-4,"v":1},{"f":"SPEI 90-Day","s":0.055,"o":-9,"v":1},{"f":"SPEI 90-Day","s":0.06,"o":1,"v":1},{"f":"SPEI 90-Day","s":0.065,"o":6,"v":0.7},{"f":"SPEI 90-Day","s":0.07,"o":-4,"v":0.8},{"f":"SPEI 90-Day","s":0.08,"o":2,"v":0.5},{"f":"SPEI 90-Day","s":0.09,"o":-2,"v":0.6},{"f":"SPEI 90-Day","s":0.1,"o":0,"v":0.6},{"f":"SPEI 90-Day","s":0.11,"o":0,"v":0.55},
{"f":"EDDI 30-Day","s":-0.07,"o":0,"v":1},{"f":"EDDI 30-Day","s":-0.055,"o":-1,"v":1},{"f":"EDDI 30-Day","s":-0.045,"o":-4,"v":0.8},{"f":"EDDI 30-Day","s":-0.045,"o":4,"v":0.7},{"f":"EDDI 30-Day","s":-0.035,"o":0,"v":0.9},{"f":"EDDI 30-Day","s":-0.03,"o":-8,"v":0.8},{"f":"EDDI 30-Day","s":-0.03,"o":8,"v":0.7},{"f":"EDDI 30-Day","s":-0.02,"o":-13,"v":0.75},{"f":"EDDI 30-Day","s":-0.02,"o":-4,"v":1},{"f":"EDDI 30-Day","s":-0.02,"o":3,"v":0.9},{"f":"EDDI 30-Day","s":-0.02,"o":12,"v":0.7},{"f":"EDDI 30-Day","s":-0.015,"o":-9,"v":0.8},{"f":"EDDI 30-Day","s":-0.01,"o":8,"v":0.75},{"f":"EDDI 30-Day","s":-0.005,"o":0,"v":0.75},{"f":"EDDI 30-Day","s":0.005,"o":-5,"v":0.5},{"f":"EDDI 30-Day","s":0.005,"o":4,"v":0.55},{"f":"EDDI 30-Day","s":0.015,"o":-1,"v":0.4},{"f":"EDDI 30-Day","s":0.02,"o":5,"v":0.35},{"f":"EDDI 30-Day","s":0.03,"o":-4,"v":0.3},{"f":"EDDI 30-Day","s":0.035,"o":1,"v":0.25},{"f":"EDDI 30-Day","s":0.045,"o":-3,"v":0.2},{"f":"EDDI 30-Day","s":0.05,"o":3,"v":0.3},{"f":"EDDI 30-Day","s":0.06,"o":0,"v":0.2},{"f":"EDDI 30-Day","s":0.07,"o":-2,"v":0.3},{"f":"EDDI 30-Day","s":0.08,"o":1,"v":0.25},{"f":"EDDI 30-Day","s":0.09,"o":0,"v":0.15},{"f":"EDDI 30-Day","s":0.1,"o":-1,"v":0.35},{"f":"EDDI 30-Day","s":0.11,"o":1,"v":0.2},{"f":"EDDI 30-Day","s":0.115,"o":0,"v":0.2},
{"f":"SPEI 30-Day","s":-0.08,"o":0,"v":0.05},{"f":"SPEI 30-Day","s":-0.07,"o":-2,"v":0.05},{"f":"SPEI 30-Day","s":-0.065,"o":2,"v":0.05},{"f":"SPEI 30-Day","s":-0.055,"o":-4,"v":0.1},{"f":"SPEI 30-Day","s":-0.055,"o":4,"v":0.05},{"f":"SPEI 30-Day","s":-0.045,"o":0,"v":0.2},{"f":"SPEI 30-Day","s":-0.04,"o":-6,"v":0.1},{"f":"SPEI 30-Day","s":-0.035,"o":6,"v":0.2},{"f":"SPEI 30-Day","s":-0.03,"o":-2,"v":0.15},{"f":"SPEI 30-Day","s":-0.025,"o":3,"v":0.25},{"f":"SPEI 30-Day","s":-0.02,"o":-8,"v":0.2},{"f":"SPEI 30-Day","s":-0.02,"o":8,"v":0.3},{"f":"SPEI 30-Day","s":-0.01,"o":-3,"v":0.35},{"f":"SPEI 30-Day","s":-0.01,"o":3,"v":0.3},{"f":"SPEI 30-Day","s":-0.005,"o":-10,"v":0.4},{"f":"SPEI 30-Day","s":-0.005,"o":10,"v":0.45},{"f":"SPEI 30-Day","s":0.005,"o":-6,"v":0.45},{"f":"SPEI 30-Day","s":0.005,"o":0,"v":0.4},{"f":"SPEI 30-Day","s":0.005,"o":6,"v":0.5},{"f":"SPEI 30-Day","s":0.01,"o":12,"v":0.7},{"f":"SPEI 30-Day","s":0.012,"o":-12,"v":0.85},{"f":"SPEI 30-Day","s":0.018,"o":-3,"v":0.8},{"f":"SPEI 30-Day","s":0.02,"o":4,"v":0.7},{"f":"SPEI 30-Day","s":0.02,"o":-15,"v":0.9},{"f":"SPEI 30-Day","s":0.02,"o":14,"v":0.8},{"f":"SPEI 30-Day","s":0.022,"o":-8,"v":1},{"f":"SPEI 30-Day","s":0.022,"o":9,"v":1},{"f":"SPEI 30-Day","s":0.032,"o":-5,"v":1},{"f":"SPEI 30-Day","s":0.032,"o":0,"v":1},{"f":"SPEI 30-Day","s":0.032,"o":5,"v":1},
{"f":"Min Temp","s":-0.07,"o":0,"v":0.65},{"f":"Min Temp","s":-0.06,"o":-2,"v":0.65},{"f":"Min Temp","s":-0.055,"o":2,"v":0.6},{"f":"Min Temp","s":-0.045,"o":-1,"v":0.6},{"f":"Min Temp","s":-0.04,"o":4,"v":0.65},{"f":"Min Temp","s":-0.035,"o":-5,"v":0.55},{"f":"Min Temp","s":-0.03,"o":1,"v":0.6},{"f":"Min Temp","s":-0.025,"o":7,"v":0.9},{"f":"Min Temp","s":-0.02,"o":-8,"v":0.7},{"f":"Min Temp","s":-0.015,"o":-3,"v":0.6},{"f":"Min Temp","s":-0.015,"o":3,"v":0.55},{"f":"Min Temp","s":-0.01,"o":10,"v":1},{"f":"Min Temp","s":-0.01,"o":-11,"v":0.75},{"f":"Min Temp","s":0.0,"o":-15,"v":0.05},{"f":"Min Temp","s":0.0,"o":-6,"v":0.7},{"f":"Min Temp","s":0.0,"o":5,"v":0.6},{"f":"Min Temp","s":0.0,"o":13,"v":0.9},{"f":"Min Temp","s":0.005,"o":0,"v":0.05},{"f":"Min Temp","s":0.01,"o":-10,"v":0.15},{"f":"Min Temp","s":0.01,"o":9,"v":0.05},{"f":"Min Temp","s":0.015,"o":-4,"v":0.6},{"f":"Min Temp","s":0.02,"o":4,"v":1},{"f":"Min Temp","s":0.02,"o":13,"v":0.9},{"f":"Min Temp","s":0.03,"o":-6,"v":0.7},{"f":"Min Temp","s":0.03,"o":0,"v":0.05},{"f":"Min Temp","s":0.04,"o":-2,"v":0.1},{"f":"Min Temp","s":0.04,"o":3,"v":0.05},{"f":"Min Temp","s":0.05,"o":-1,"v":0.05},{"f":"Min Temp","s":0.06,"o":-3,"v":0.05},{"f":"Min Temp","s":0.065,"o":2,"v":0.05},{"f":"Min Temp","s":0.075,"o":-1,"v":0.05},{"f":"Min Temp","s":0.085,"o":-1,"v":0.05}
]},"layer":[{"mark":{"type":"rule","color":"#a3a3a3","strokeWidth":2.3},"encoding":{"x":{"datum":0,"type":"quantitative"}}},{"mark":{"type":"circle","size":38,"opacity":1},"encoding":{"x":{"field":"s","type":"quantitative","title":"SHAP Value - Impact on Predicted NDVI","scale":{"domain":[-0.904,1.0],"nice":false},"axis":{"values":[-0.75,-0.5,-0.25,0,0.25,0.5,0.75,1],"format":".2f","labelFlush":false,"labelExpr":"replace(datum.label,'-','\u2212')","grid":false,"domain":true,"domainColor":"#333333","domainWidth":1.5,"labelFontSize":15,"titleFontSize":18,"tickSize":5,"titlePadding":5,"labelPadding":5}},"y":{"field":"f","type":"nominal","sort":null,"title":null,"scale":{"type":"point","padding":1},"axis":{"domain":false,"ticks":false,"grid":true,"gridDash":[1.5,3],"gridColor":"#d0d0d0","labelFontSize":17.8,"labelPadding":35,"labelOffset":1.5}},"yOffset":{"field":"o","type":"quantitative","scale":{"domain":[-30,30],"range":[-30,30]}},"color":{"field":"v","type":"quantitative","title":"Feature value","scale":{"domain":[0,1],"range":["#008bfb","#ff0051"],"interpolate":"rgb"},"legend":{"orient":"none","legendX":1155,"legendY":-1,"gradientLength":677,"gradientThickness":9,"values":[0,1],"labelExpr":"datum.value==1?'High':'Low'","labelFontSize":14.5,"labelOffset":6,"labelColor":"#333333","titleFontSize":17,"titleColor":"#333333","titleOrient":"right","titleFontWeight":"normal","titlePadding":5,"encoding":{"title":{"dy":{"value":6}},"labels":{"baseline":{"value":"middle"}}}}}}}]}]}
